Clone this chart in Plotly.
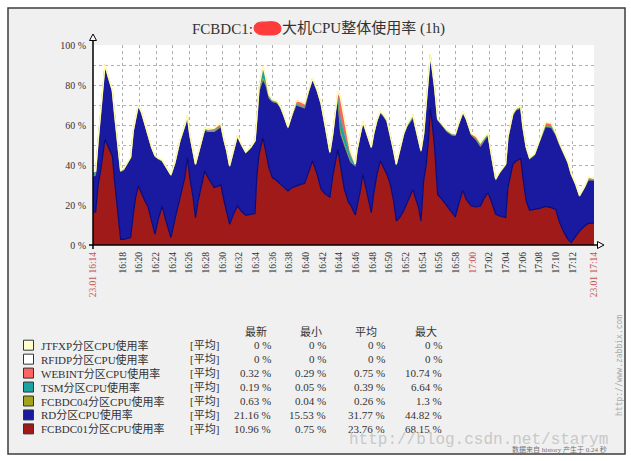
import plotly.graph_objects as go

DAY = "2015-01-23 "

times = [
    "16:14:26", "16:14:45", "16:15:03", "16:15:23", "16:15:52", "16:16:16", "16:16:45", "16:17:04", "16:17:23", "16:17:45",
    "16:18:07", "16:18:28", "16:18:57", "16:19:16", "16:19:33", "16:19:52", "16:20:16", "16:20:40", "16:21:04", "16:21:28",
    "16:21:52", "16:22:16", "16:22:44", "16:23:08", "16:23:47", "16:24:16", "16:24:52", "16:25:27", "16:25:46", "16:26:03",
    "16:26:27", "16:26:44", "16:27:03", "16:27:27", "16:27:51", "16:28:15", "16:28:58", "16:29:34", "16:29:46", "16:30:10",
    "16:30:29", "16:30:50", "16:31:17", "16:31:46", "16:32:14", "16:32:46", "16:33:22", "16:33:53", "16:34:05", "16:34:22",
    "16:34:50", "16:35:09", "16:35:33", "16:35:57", "16:36:33", "16:36:57", "16:37:21", "16:37:50", "16:38:21", "16:38:50",
    "16:39:21", "16:39:50", "16:40:20", "16:40:47", "16:41:20", "16:41:49", "16:42:20", "16:42:52", "16:43:13", "16:43:32",
    "16:43:49", "16:44:07", "16:44:36", "16:45:07", "16:45:19", "16:45:55", "16:46:07", "16:46:31", "16:46:50", "16:47:07",
    "16:47:31", "16:47:50", "16:48:07", "16:48:31", "16:48:55", "16:49:19", "16:49:43", "16:50:07", "16:50:31", "16:50:50",
    "16:51:14", "16:51:43", "16:52:07", "16:52:31", "16:52:50", "16:53:07", "16:53:31", "16:53:48", "16:54:07", "16:54:26",
    "16:54:43", "16:54:55", "16:55:07", "16:55:26", "16:55:48", "16:56:19", "16:56:55", "16:57:31", "16:57:55", "16:58:19",
    "16:58:50", "16:59:14", "16:59:50", "17:00:26", "17:00:56", "17:01:26", "17:01:50", "17:02:14", "17:02:46", "17:03:14",
    "17:03:58", "17:04:14", "17:04:50", "17:05:14", "17:05:46", "17:06:02", "17:06:26", "17:06:50", "17:07:26", "17:08:02",
    "17:08:46", "17:09:26", "17:09:58", "17:10:26", "17:10:58", "17:11:26", "17:11:50", "17:12:22", "17:12:50", "17:13:26",
    "17:13:55", "17:14:34",
]

fcbdc01 = [
    16.5, 16.5, 30, 38, 52.8, 48.7, 44.5, 30, 17, 2.8,
    2.8, 3.2, 3.7, 15.3, 23.7, 29.5, 25.3, 22, 18.7, 12,
    5.3, 12.8, 19.5, 12.8, 3.7, 12.8, 23.7, 33.7, 43.7, 33.7,
    23.7, 13.7, 22, 30.3, 37, 33.7, 28.7, 29.5, 30.3, 22,
    17, 10.3, 15.3, 19.5, 17, 14.8, 15.3, 15.7, 33.7, 45.3,
    53.7, 47, 38.7, 33.7, 32, 30.3, 28.7, 27, 28.7, 29.5,
    30.3, 30.7, 37, 42, 35.3, 27.8, 25.3, 24, 34.5, 42,
    47.8, 40, 28, 21, 20.3, 15, 18.7, 27, 35.3, 30.3,
    22, 16.2, 25.3, 35.3, 42, 38.7, 35.3, 30.3, 22, 12,
    13.7, 17, 21.2, 25.3, 27.8, 23.7, 18.7, 12, 32, 40.3,
    53.7, 68.15, 62, 48.7, 25.3, 22.8, 19.5, 16.2, 14, 20.3,
    27.3, 22.8, 19.5, 19, 19.5, 23.7, 26.2, 22, 15.3, 14.5,
    13.7, 28.7, 40.3, 42, 43.3, 33.7, 22, 17.3, 17.8, 18.3,
    19.3, 18.7, 17.8, 11.2, 6.2, 2.8, 1.2, 4.5, 7, 9.5,
    10.8, 10.96,
]

rd = [
    17.6, 18.3, 21.5, 28.5, 36.2, 34.5, 32.0, 33.2, 34.5, 33.7,
    34.5, 36.3, 39.5, 41.2, 39.5, 39.5, 40.2, 37.5, 34.5, 36.2,
    38.7, 30.0, 22.3, 26.2, 30.8, 27.7, 27.8, 25.3, 19.8, 20.8,
    21.1, 26.1, 22.8, 21.2, 20.3, 22.8, 27.8, 28.7, 28.7, 29.5,
    29.5, 28.7, 31.2, 34.5, 32.8, 30.9, 32.9, 35.8, 27.8, 31.2,
    28.6, 32.8, 34.5, 37.8, 38.7, 37.9, 35.3, 31.2, 36.1, 40.3,
    38.7, 37.5, 39.5, 40.3, 41.2, 42.0, 33.0, 21.8, 20.3, 24.5,
    23.7, 15.5, 21.5, 22.5, 21.2, 24.3, 27.8, 27.8, 25.4, 27.0,
    29.5, 32.0, 29.5, 26.2, 23.7, 25.3, 26.2, 24.5, 24.5, 27.8,
    32.8, 37.8, 37.8, 36.2, 35.4, 34.5, 32.8, 34.5, 22.8, 29.5,
    31.1, 25.8, 26.2, 29.5, 37.0, 36.7, 37.0, 38.6, 40.5, 39.5,
    38.4, 39.5, 35.3, 33.3, 29.5, 28.6, 28.3, 22.8, 17.0, 21.2,
    26.1, 24.5, 24.5, 25.3, 25.0, 24.5, 26.2, 25.5, 27.0, 33.2,
    39.7, 39.8, 37.0, 38.6, 38.6, 37.9, 33.6, 25.3, 17.0, 18.7,
    21.5, 21.16,
]

fcbdc04 = [
    0.4, 0.4, 0.5, 0.5, 0.5, 0.4, 0.4, 0.3, 0.3, 0.3,
    0.3, 0.3, 0.3, 0.3, 0.4, 0.4, 0.3, 0.3, 0.3, 0.3,
    0.3, 0.2, 0.2, 0.2, 0.2, 0.3, 0.3, 0.3, 0.4, 0.3,
    0.3, 0.2, 0.3, 0.3, 0.3, 0.3, 0.3, 0.4, 0.4, 0.3,
    0.3, 0.2, 0.3, 0.3, 0.3, 0.3, 0.3, 0.3, 0.5, 0.6,
    1.0, 0.8, 0.5, 0.4, 0.4, 0.3, 0.3, 0.3, 0.3, 0.4,
    0.4, 0.4, 0.4, 0.5, 0.4, 0.3, 0.3, 0.2, 0.3, 0.4,
    0.8, 1.3, 1.0, 0.6, 0.5, 0.3, 0.3, 0.3, 0.4, 0.3,
    0.3, 0.3, 0.3, 0.4, 0.5, 0.4, 0.3, 0.3, 0.3, 0.2,
    0.3, 0.3, 0.4, 0.4, 0.6, 0.5, 0.4, 0.3, 0.3, 0.4,
    0.5, 0.6, 0.5, 0.4, 0.3, 0.3, 0.3, 0.3, 0.3, 0.3,
    0.4, 0.4, 0.3, 0.4, 0.4, 0.4, 0.4, 0.3, 0.3, 0.3,
    0.3, 0.4, 0.5, 0.5, 0.5, 0.4, 0.3, 0.3, 0.3, 0.4,
    0.5, 0.5, 0.5, 0.5, 0.4, 0.4, 0.4, 0.3, 0.3, 0.4,
    0.6, 0.63,
]

tsm = [
    1.5, 1.2, 0.4, 0.3, 0.3, 0.3, 0.3, 0.2, 0.2, 0.2,
    0.2, 0.2, 0.2, 0.2, 0.2, 0.3, 0.3, 0.2, 0.2, 0.2,
    0.2, 0.2, 0.2, 0.2, 0.2, 0.2, 0.3, 0.3, 0.4, 0.3,
    0.2, 0.2, 0.2, 0.2, 0.3, 0.3, 0.3, 0.3, 0.3, 0.2,
    0.2, 0.2, 0.2, 0.2, 0.2, 0.2, 0.2, 0.2, 0.5, 1.5,
    5.5, 3.0, 1.0, 0.5, 0.3, 0.3, 0.3, 0.2, 0.3, 0.3,
    0.3, 0.3, 0.3, 0.3, 0.3, 0.3, 0.2, 0.2, 0.3, 0.5,
    2.0, 6.6, 5.0, 3.0, 2.5, 0.4, 0.3, 0.3, 0.3, 0.3,
    0.2, 0.2, 0.3, 0.3, 0.3, 0.3, 0.3, 0.2, 0.2, 0.2,
    0.2, 0.3, 0.3, 0.5, 1.0, 0.6, 0.3, 0.2, 0.3, 0.3,
    0.5, 0.5, 0.4, 0.3, 0.3, 0.3, 0.2, 0.2, 0.2, 0.3,
    0.3, 0.3, 0.2, 0.3, 0.3, 0.5, 0.6, 0.3, 0.2, 0.2,
    0.2, 0.2, 0.3, 0.3, 0.3, 0.3, 0.2, 0.2, 0.2, 0.2,
    0.3, 0.3, 0.3, 0.3, 0.3, 0.2, 0.2, 0.2, 0.2, 0.2,
    0.2, 0.19,
]

webint = [
    0.8, 0.6, 0.3, 0.3, 0.4, 0.4, 0.3, 0.3, 0.3, 0.3,
    0.3, 0.3, 0.3, 0.3, 0.3, 0.3, 0.3, 0.3, 0.3, 0.3,
    0.3, 0.3, 0.3, 0.3, 0.3, 0.3, 0.3, 0.3, 0.3, 0.3,
    0.3, 0.3, 0.3, 0.3, 0.6, 0.8, 1.2, 1.4, 1.0, 0.4,
    0.3, 0.3, 0.3, 0.3, 0.3, 0.3, 0.3, 0.3, 0.3, 0.4,
    0.8, 0.6, 0.4, 0.3, 0.4, 0.4, 0.3, 0.3, 0.6, 1.6,
    2.0, 1.8, 0.6, 0.4, 0.4, 0.4, 0.3, 0.3, 0.5, 1.0,
    2.5, 10.74, 8.0, 4.0, 2.5, 0.5, 0.3, 0.3, 0.3, 0.3,
    0.3, 0.3, 0.3, 0.3, 0.4, 0.4, 0.3, 0.3, 0.3, 0.3,
    0.3, 0.3, 0.3, 0.3, 0.4, 0.4, 0.3, 0.3, 0.3, 0.3,
    0.3, 0.4, 0.4, 0.3, 0.3, 0.4, 0.5, 0.5, 0.5, 0.4,
    0.3, 0.3, 0.4, 1.3, 1.5, 0.8, 0.4, 0.3, 0.3, 0.3,
    0.3, 0.3, 0.3, 0.3, 0.3, 0.4, 0.3, 0.3, 0.3, 0.4,
    1.6, 1.6, 0.6, 0.4, 0.4, 0.4, 0.3, 0.3, 0.3, 0.4,
    0.9, 0.32,
]

rfidp = [0.0] * len(times)
jtfxp = [0.0] * len(times)

# legend table (top to bottom)
legend_names = ["JTFXP分区CPU使用率", "RFIDP分区CPU使用率", "WEBINT分区CPU使用率", "TSM分区CPU使用率",
                "FCBDC04分区CPU使用率", "RD分区CPU使用率", "FCBDC01分区CPU使用率"]
legend_colors = ["#FFFFCC", "#FFFFFF", "#FF6464", "#1AA3A3", "#A3A31A", "#1A1AA0", "#A01A1A"]
stat_last = ["0 %", "0 %", "0.32 %", "0.19 %", "0.63 %", "21.16 %", "10.96 %"]
stat_min = ["0 %", "0 %", "0.29 %", "0.05 %", "0.04 %", "15.53 %", "0.75 %"]
stat_avg = ["0 %", "0 %", "0.75 %", "0.39 %", "0.26 %", "31.77 %", "23.76 %"]
stat_max = ["0 %", "0 %", "10.74 %", "6.64 %", "1.3 %", "44.82 %", "68.15 %"]
stat_headers = ["最新", "最小", "平均", "最大"]

x_tick_times = ["16:18", "16:20", "16:22", "16:24", "16:26", "16:28", "16:30", "16:32", "16:34", "16:36",
                "16:38", "16:40", "16:42", "16:44", "16:46", "16:48", "16:50", "16:52", "16:54", "16:56",
                "16:58", "17:00", "17:02", "17:04", "17:06", "17:08", "17:10", "17:12"]
y_ticks = [0, 10, 20, 30, 40, 50, 60, 70, 80, 90, 100]

assert all(len(a) == len(times) for a in [fcbdc01, rd, fcbdc04, tsm, webint])

X = [DAY + t for t in times]

# ---- geometry (pixels) ----
WIDTH, HEIGHT = 631, 461
L, R, T, B = 93, 594, 45, 245
PW, PH = R - L, B - T


def px(x):
    return (x - L) / PW


def py(y):
    return (B - y) / PH


SERIF = "Liberation Serif, Noto Sans CJK SC, serif"
TXT = "#333333"
RED_TXT = "#C85050"

fig = go.Figure()

series = [
    ("FCBDC01分区CPU使用率", fcbdc01, "#A01A1A", dict(color="#0A0A78", width=1.2)),
    ("RD分区CPU使用率", rd, "#1A1AA0", dict(color="#1A1AA0", width=0.5)),
    ("FCBDC04分区CPU使用率", fcbdc04, "#A3A31A", dict(color="#A3A31A", width=0.6)),
    ("TSM分区CPU使用率", tsm, "#1AA3A3", dict(color="#1AA3A3", width=0.6)),
    ("WEBINT分区CPU使用率", webint, "#FF6464", dict(color="#FF6464", width=0.8)),
    ("RFIDP分区CPU使用率", rfidp, "#FFFFFF", dict(color="#FFFFFF", width=0)),
    ("JTFXP分区CPU使用率", jtfxp, "#FFFFCC", dict(color="#FFFFB4", width=1.5)),
]
for name, vals, col, ln in series:
    fig.add_trace(go.Scatter(x=X, y=vals, name=name, mode="lines", stackgroup="one",
                             fillcolor=col, line=ln, hoverinfo="skip", showlegend=False))

tickvals = [DAY + "16:14:26.5"] + [DAY + t + ":00" for t in x_tick_times] + [DAY + "17:14:33.5"]
ticktext = ['<span style="color:%s">23.01 16:14</span>' % RED_TXT]
for t in x_tick_times:
    if t == "17:00":
        ticktext.append('<span style="color:%s">%s</span>' % (RED_TXT, t))
    else:
        ticktext.append(t)
ticktext.append('<span style="color:%s">23.01 17:14</span>' % RED_TXT)

fig.update_xaxes(type="date", range=[DAY + "16:14:26", DAY + "17:14:34"],
                 tickmode="array", tickvals=tickvals, ticktext=ticktext, tickangle=-90,
                 tickfont=dict(family=SERIF, size=9.5, color=TXT), ticks="",
                 showgrid=True, gridcolor="#B0B0B0", griddash="3px,3px", gridwidth=1,
                 showline=False, zeroline=False, ticklabelstandoff=4)
fig.update_yaxes(range=[0, 100], tickmode="array", tickvals=y_ticks,
                 ticktext=[("%d %%" % v) if v % 20 == 0 else "" for v in y_ticks],
                 tickfont=dict(family=SERIF, size=10, color=TXT), ticks="",
                 showgrid=True, gridcolor="#B0B0B0", griddash="3px,3px", gridwidth=1,
                 showline=False, zeroline=False, ticklabelstandoff=6)

shapes = []
# frame
shapes.append(dict(type="rect", xref="paper", yref="paper", x0=px(8), x1=px(625), y0=py(454), y1=py(8),
                   fillcolor="#F0F0F0", line=dict(color="#3C3C3C", width=1.5), layer="below"))
shapes.append(dict(type="rect", xref="paper", yref="paper", x0=0, x1=1, y0=0, y1=1,
                   fillcolor="#FFFFFF", line=dict(width=0), layer="below"))
# axes
shapes.append(dict(type="line", xref="paper", yref="paper", x0=0, x1=0, y0=py(B + 4), y1=py(39),
                   line=dict(color="#000000", width=1.5)))
shapes.append(dict(type="line", xref="paper", yref="paper", x0=px(L - 4), x1=px(598), y0=0, y1=0,
                   line=dict(color="#000000", width=1.5)))
# arrow heads (open triangles)
shapes.append(dict(type="path", xref="paper", yref="paper",
                   path="M %f %f L %f %f L %f %f Z" % (px(L), py(34), px(L - 3.5), py(40.5), px(L + 3.5), py(40.5)),
                   fillcolor="#FFFFFF", line=dict(color="#000000", width=1)))
shapes.append(dict(type="path", xref="paper", yref="paper",
                   path="M %f %f L %f %f L %f %f Z" % (px(604), py(B), px(597.5), py(B - 3.5), px(597.5), py(B + 3.5)),
                   fillcolor="#FFFFFF", line=dict(color="#000000", width=1)))

annotations = []
# title
annotations.append(dict(x=px(190), y=py(29), xref="paper", yref="paper", xanchor="left", yanchor="middle",
                        text="FCBDC1:", showarrow=False,
                        font=dict(family=SERIF, size=15, color=TXT)))
annotations.append(dict(x=px(280), y=py(29), xref="paper", yref="paper", xanchor="left", yanchor="middle",
                        text="大机CPU整体使用率 (1h)", showarrow=False,
                        font=dict(family=SERIF, size=15, color=TXT)))
shapes.append(dict(type="path", xref="paper", yref="paper",
                   path="M %f %f Q %f %f %f %f Q %f %f %f %f Q %f %f %f %f Q %f %f %f %f Z" % (
                       px(254), py(28), px(254), py(21), px(266), py(22),
                       px(280), py(20), px(281), py(28),
                       px(282), py(36), px(268), py(35),
                       px(254), py(36), px(254), py(28)),
                   fillcolor="#FF3C3C", line=dict(color="#FF3C3C", width=1)))

# legend header
head_x = [256, 311, 366, 426]
for hx, h in zip(head_x, stat_headers):
    annotations.append(dict(x=px(hx), y=py(331.5), xref="paper", yref="paper", xanchor="center", yanchor="middle",
                            text=h, showarrow=False, font=dict(family=SERIF, size=11, color=TXT)))

row_y0, row_dy = 345.2, 13.95
for i, nm in enumerate(legend_names):
    yy = row_y0 + i * row_dy
    shapes.append(dict(type="rect", xref="paper", yref="paper", x0=px(23.5), x1=px(33.5),
                       y0=py(yy + 5), y1=py(yy - 5), fillcolor=legend_colors[i],
                       line=dict(color="#333333", width=1)))
    annotations.append(dict(x=px(39), y=py(yy), xref="paper", yref="paper", xanchor="left", yanchor="middle",
                            text=nm, showarrow=False, font=dict(family=SERIF, size=11, color=TXT)))
    annotations.append(dict(x=px(188), y=py(yy), xref="paper", yref="paper", xanchor="left", yanchor="middle",
                            text="[平均]", showarrow=False, font=dict(family=SERIF, size=11, color=TXT)))
    for rx, vals in zip([273, 328, 386.5, 444], [stat_last, stat_min, stat_avg, stat_max]):
        annotations.append(dict(x=px(rx), y=py(yy), xref="paper", yref="paper", xanchor="right", yanchor="middle",
                                text=vals[i], showarrow=False, font=dict(family=SERIF, size=11, color=TXT)))

# watermarks
annotations.append(dict(x=px(347), y=py(440), xref="paper", yref="paper", xanchor="left", yanchor="middle",
                        text="http://blog.csdn.net/starym", showarrow=False,
                        font=dict(family="Liberation Mono, monospace", size=16, color="#C8C8C8")))
annotations.append(dict(x=px(510), y=py(449), xref="paper", yref="paper", xanchor="left", yanchor="middle",
                        text="数据来自 history 产生于 0.24 秒", showarrow=False,
                        font=dict(family=SERIF, size=7, color="#707070")))
annotations.append(dict(x=px(619), y=py(366), xref="paper", yref="paper", xanchor="center", yanchor="middle",
                        text="http://www.zabbix.com", showarrow=False, textangle=-90,
                        font=dict(family="DejaVu Sans Mono, monospace", size=8, color="#A8A8A8")))

fig.update_layout(width=WIDTH, height=HEIGHT, margin=dict(l=L, r=WIDTH - R, t=T, b=HEIGHT - B),
                  paper_bgcolor="#FFFFFF", plot_bgcolor="#FFFFFF", showlegend=False,
                  shapes=shapes, annotations=annotations)

fig.write_html("out.html")
